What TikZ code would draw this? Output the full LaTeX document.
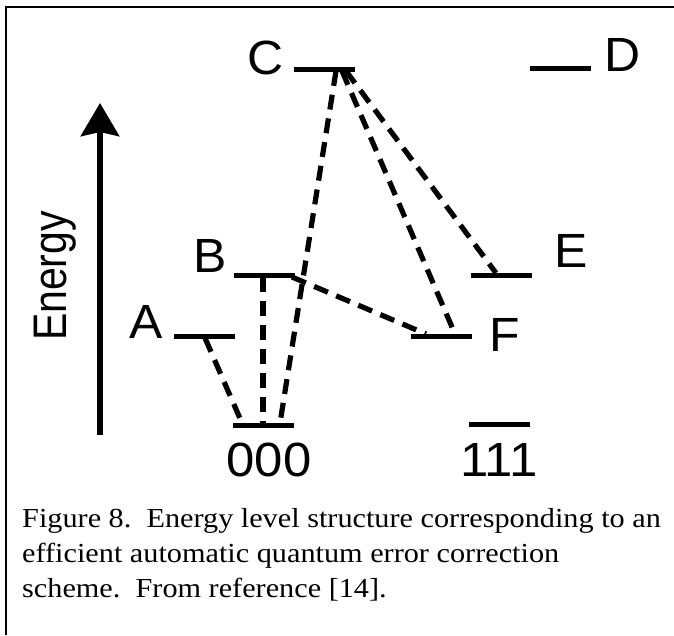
\documentclass[tikz,border=0pt]{standalone}
\usepackage{fontspec}
\setmainfont{Liberation Serif}
\newfontfamily\labelfont{Liberation Sans}
\usetikzlibrary{arrows.meta}

\newcommand{\wide}[2]{\scalebox{#1}[1]{#2}}

\begin{document}
\begin{tikzpicture}[x=1pt,y=-1pt,
  level/.style={draw=none, fill=black, minimum width=61pt, minimum height=5pt, inner sep=0pt},
  lbl/.style={font=\labelfont\fontsize{48}{48}\selectfont, inner sep=0pt},
  trans/.style={line width=5.2pt, dash pattern=on 15pt off 9pt},
  capt/.style={font=\fontsize{27.5}{34}\selectfont, anchor=base west, inner sep=0pt}]

\useasboundingbox (0,0) rectangle (674,635);

% frame (open on the right and at the bottom)
\draw[line width=2.5pt] (6,635) -- (6,7) -- (674,7);

% energy levels
\node[level] (C)   at (324,69)  {};
\node[level] (D)   at (560,68)  {};
\node[level] (B)   at (264,275) {};
\node[level] (E)   at (501,275) {};
\node[level] (A)   at (204,336) {};
\node[level] (F)   at (441,336) {};
\node[level] (g0)  at (263,425) {};
\node[level] (g1)  at (499,424) {};

% level labels
\node[lbl] (Ct) at (266,58)  {\wide{1.04}{C}};
\node[lbl] (Dt) at (623,55)  {\wide{1.04}{D}};
\node[lbl] (Bt) at (210,256) {\wide{1.04}{B}};
\node[lbl] (Et) at (571,251) {\wide{1.04}{E}};
\node[lbl] (At) at (146,322) {\wide{1.04}{A}};
\node[lbl] (Ft) at (505,335) {\wide{1.04}{F}};
\node[lbl] (g0t) at (269,460) {\wide{1.06}{000}};
\node[lbl] (g1t) at (499,460) {\wide{1.06}{111}};

% energy axis
\coordinate (ax0) at (100,435);
\coordinate (ax1) at (100,103);
\draw[line width=6.5pt, -{Stealth[length=33pt,width=38pt,inset=4pt]}] (ax0) -- (ax1);
\node[inner sep=0pt] (energy) at (55,276)
  {\rotatebox{90}{\scalebox{1}[1.15]{\labelfont\fontsize{41}{41}\selectfont Energy}}};

% transition end points
\coordinate (A-s)  at (205,338);
\coordinate (B-s1) at (263,277);
\coordinate (B-s2) at (292,277);
\coordinate (C-s1) at (336,71);
\coordinate (C-s2) at (342,71);
\coordinate (C-s3) at (346,71);
\coordinate (g0-a) at (242,423);
\coordinate (g0-b) at (263,423);
\coordinate (g0-c) at (280,423);
\coordinate (F-b)  at (426,334);
\coordinate (F-c)  at (455,334);
\coordinate (E-c)  at (496,273);

% transitions
\draw[trans] (A-s)  -- (g0-a);
\draw[trans] (B-s1) -- (g0-b);
\draw[trans] (C-s1) -- (g0-c);
\draw[trans] (C-s2) -- (F-c);
\draw[trans] (C-s3) -- (E-c);
\draw[trans] (B-s2) -- (F-b);

% caption
\node[capt] (cap1) at (22,527) {\wide{1.10}{Figure 8.\ \ Energy level structure corresponding to an}};
\node[capt] (cap2) at (22,562) {\wide{1.10}{efficient automatic quantum error correction}};
\node[capt] (cap3) at (22,597) {\wide{1.10}{scheme.\ \ From reference [14].}};
\end{tikzpicture}
\end{document}
